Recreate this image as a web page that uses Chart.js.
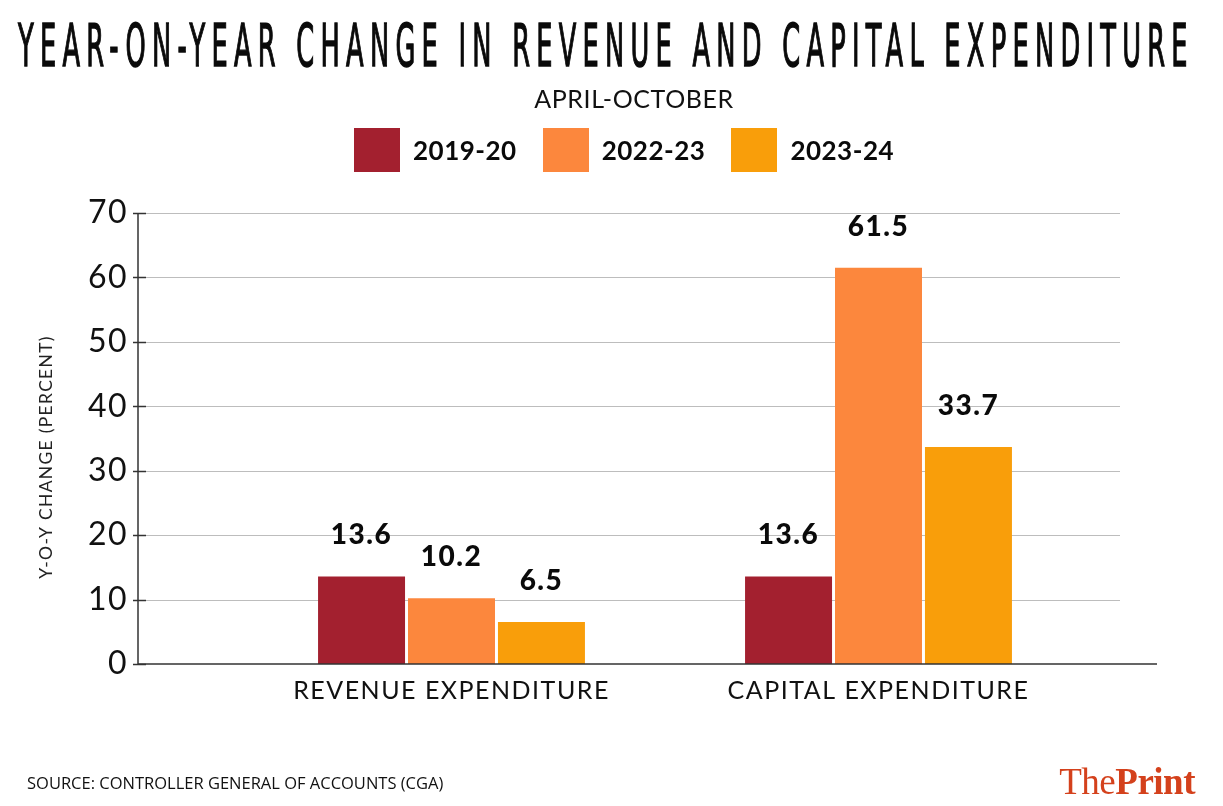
<!DOCTYPE html>
<html lang="en">
<head>
    <meta charset="UTF-8">
    <script src="https://cdn.jsdelivr.net/npm/chart.js"></script>
    <title>Year-on-year change in revenue and capital expenditure</title>
    <style>
        body { margin: 0; background: #fff; }
        .wrap { position: relative; width: 1223px; height: 806px; overflow: hidden; }
        #myChart { position: absolute; left: 0; top: 0; }
        .title {
            position: absolute; left: 18px; top: 16px;
            font-family: "Liberation Sans Narrow", "DejaVu Sans Condensed", sans-serif;
            font-size: 59px; line-height: 59px; font-weight: normal; color: #0a0a0a;
            white-space: nowrap; transform-origin: 0 0; letter-spacing: 13px;
            -webkit-text-stroke: 1.4px #0a0a0a;
        }
        .subtitle {
            position: absolute; left: 0; width: 1268px; top: 86px; text-align: center;
            font-family: Lato, sans-serif; font-size: 25px; line-height: 25px; color: #111; letter-spacing: 0.6px;
        }
        .legend { position: absolute; left: 354px; top: 128px; display: flex; }
        .legend .item { display: flex; align-items: center; margin-right: 26px; }
        .legend .box { width: 46px; height: 44px; margin-right: 13px; }
        .legend .txt { font-family: Lato, sans-serif; font-weight: bold; font-size: 26px; line-height: 44px; color: #0a0a0a; letter-spacing: 0.5px; }
        .source {
            position: absolute; left: 27px; top: 775px;
            font-family: "Open Sans", sans-serif; font-size: 16.5px; line-height: 16px; color: #111;
        }
        .logo {
            position: absolute; right: 28px; top: 763px;
            font-family: "Liberation Serif", serif; font-size: 37px; line-height: 37px; color: #d4411c; letter-spacing: -0.5px;
        }
        .logo b { font-weight: bold; }
    </style>
</head>
<body>
<div class="wrap">
    <canvas id="myChart" width="1223" height="806"></canvas>
    <div class="title" id="title">YEAR-ON-YEAR CHANGE IN REVENUE AND CAPITAL EXPENDITURE</div>
    <div class="subtitle">APRIL-OCTOBER</div>
    <div class="legend" id="legend"></div>
    <div class="source">SOURCE: CONTROLLER GENERAL OF ACCOUNTS (CGA)</div>
    <div class="logo">The<b>Print</b></div>
</div>

<script>
    // data
    const categories = ['REVENUE EXPENDITURE', 'CAPITAL EXPENDITURE'];
    const seriesNames = ['2019-20', '2022-23', '2023-24'];
    const values2019 = [13.6, 13.6];
    const values2022 = [10.2, 61.5];
    const values2023 = [6.5, 33.7];
    const seriesColors = ['#a3202f', '#fc873d', '#f99e0a'];
    const yMin = 0, yMax = 70, yStep = 10;
    const yTitle = 'Y-O-Y CHANGE (PERCENT)';

    const allValues = [values2019, values2022, values2023];

    // squeeze the title into the same width as the original
    const title = document.getElementById('title');
    title.style.transform = 'scaleX(' + (1176 / title.scrollWidth) + ')';

    // html legend
    const legend = document.getElementById('legend');
    seriesNames.forEach((name, i) => {
        legend.innerHTML += '<div class="item"><div class="box" style="background:' + seriesColors[i] + '"></div><div class="txt">' + name + '</div></div>';
    });

    const axisX = 138, axisRight = 1157, gridLeft = 146, gridRight = 1120;

    const axesPlugin = {
        id: 'axesLines',
        beforeDatasetsDraw: (chart) => {
            const {ctx} = chart;
            const y = chart.scales.y;
            ctx.save();
            ctx.strokeStyle = '#bdbdbd';
            ctx.lineWidth = 1;
            y.ticks.forEach(t => {
                if (t.value === yMin) return;
                const py = Math.round(y.getPixelForValue(t.value)) + 0.5;
                ctx.beginPath();
                ctx.moveTo(gridLeft, py);
                ctx.lineTo(gridRight, py);
                ctx.stroke();
            });
            ctx.restore();
        },
        afterDatasetsDraw: (chart) => {
            const {ctx} = chart;
            const y = chart.scales.y;
            const top = y.getPixelForValue(yMax);
            const bottom = y.getPixelForValue(yMin);
            ctx.save();
            ctx.strokeStyle = '#333';
            ctx.lineWidth = 1.5;
            ctx.beginPath();
            ctx.moveTo(axisX, top);
            ctx.lineTo(axisX, bottom);
            ctx.lineTo(axisRight, bottom);
            ctx.stroke();
            y.ticks.forEach(t => {
                const py = Math.round(y.getPixelForValue(t.value)) + 0.5;
                ctx.beginPath();
                ctx.moveTo(axisX - 5, py);
                ctx.lineTo(gridLeft, py);
                ctx.stroke();
            });

            // value labels above bars
            ctx.fillStyle = '#0a0a0a';
            ctx.font = '900 28px Lato';
            ctx.textAlign = 'center';
            ctx.textBaseline = 'alphabetic';
            ctx.letterSpacing = '1.5px';
            chart.data.datasets.forEach((ds, di) => {
                chart.getDatasetMeta(di).data.forEach((bar, i) => {
                    ctx.fillText(ds.data[i].toFixed(1), bar.x, bar.y - 32);
                });
            });

            // rotated y title
            ctx.font = '17.5px Lato';
            ctx.fillStyle = '#222';
            ctx.letterSpacing = '1.3px';
            ctx.translate(46, 457);
            ctx.rotate(-Math.PI / 2);
            ctx.textBaseline = 'middle';
            ctx.fillText(yTitle, 0, 0);
            ctx.restore();
        }
    };

    const ctx = document.getElementById('myChart').getContext('2d');

    const chart = new Chart(ctx, {
        type: 'bar',
        data: {
            labels: categories,
            datasets: seriesNames.map((name, i) => ({
                label: name,
                data: allValues[i],
                backgroundColor: seriesColors[i],
                borderWidth: 0,
                categoryPercentage: 0.632,
                barPercentage: 0.967,
            }))
        },
        options: {
            responsive: false,
            animation: false,
            layout: {
                padding: {top: 213, right: 131, bottom: 0, left: 0}
            },
            plugins: {
                legend: {display: false},
                tooltip: {enabled: false}
            },
            scales: {
                x: {
                    grid: {display: false, drawTicks: false},
                    border: {display: false},
                    ticks: {
                        color: '#111',
                        font: {family: 'Lato', size: 25},
                        padding: 12,
                        maxRotation: 0,
                        autoSkip: false
                    },
                    afterFit: (scale) => { scale.height = 142; }
                },
                y: {
                    min: yMin,
                    max: yMax,
                    grid: {display: false, drawTicks: false},
                    border: {display: false},
                    ticks: {
                        stepSize: yStep,
                        color: '#111',
                        font: {family: 'Lato', size: 32},
                        padding: 110
                    },
                    afterFit: (scale) => { scale.width = 238; }
                }
            }
        },
        plugins: [axesPlugin, {
            id: 'tickSpacing',
            beforeDraw: (c) => { c.ctx.letterSpacing = '1.5px'; }
        }],
    });
</script>

</body>
</html>
